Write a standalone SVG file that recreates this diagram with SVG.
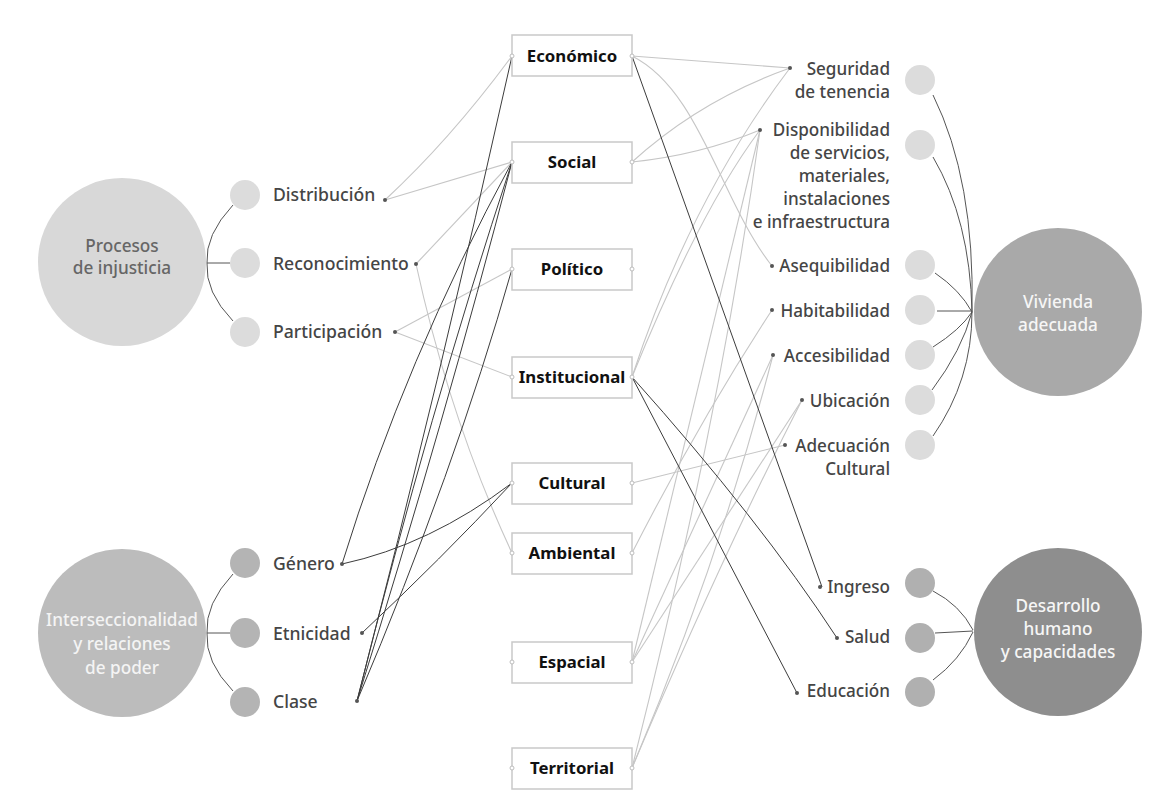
<svg xmlns="http://www.w3.org/2000/svg" width="1165" height="791" viewBox="0 0 1165 791">
<style>
.lbl{font-family:"Noto Sans","DejaVu Sans",sans-serif;font-size:17.6px;fill:#454545;font-weight:500}
.rl{font-size:17.1px;text-anchor:end}
.box{fill:#fff;stroke:#c9c9c9;stroke-width:1.5}
.bt{font-family:"Noto Sans","DejaVu Sans",sans-serif;font-size:16.8px;font-weight:700;fill:#111;text-anchor:middle}
.ct{font-family:"Noto Sans","DejaVu Sans",sans-serif;font-size:17.2px;text-anchor:middle;font-weight:500}
.lt{fill:none;stroke:#c6c6c6;stroke-width:1.1}
.dk{fill:none;stroke:#3c3c3c;stroke-width:1}
.br{fill:none;stroke:#555;stroke-width:1}
.dot{fill:#555}
.ep{fill:#fff;stroke:#bdbdbd;stroke-width:1}
</style>
<rect width="1165" height="791" fill="#fff"/>

<g id="connectors">
  <!-- left light -->
  <path class="lt" d="M385,200 Q450,140 512,56"/>
  <path class="lt" d="M385,200 L512,162"/>
  <path class="lt" d="M416,264 L512,162"/>
  <path class="lt" d="M416,264 Q450,420 512,553"/>
  <path class="lt" d="M395,332 L512,269"/>
  <path class="lt" d="M395,332 L512,377"/>
  <!-- left dark -->
  <path class="dk" d="M342,564 Q405,360 512,162"/>
  <path class="dk" d="M342,564 Q430,545 512,483"/>
  <path class="dk" d="M362,633 Q440,560 512,483"/>
  <path class="dk" d="M357,701 Q440,380 512,56"/>
  <path class="dk" d="M357,701 Q430,410 512,162"/>
  <path class="dk" d="M357,701 Q445,420 512,162"/>
  <path class="dk" d="M357,701 Q455,470 512,269"/>
  <!-- right light -->
  <path class="lt" d="M632,56 L790,68"/>
  <path class="lt" d="M632,56 C700,90 720,200 772,266"/>
  <path class="lt" d="M632,162 Q700,100 790,68"/>
  <path class="lt" d="M632,162 Q700,155 760,130"/>
  <path class="lt" d="M632,377 Q690,200 790,68"/>
  <path class="lt" d="M632,377 Q700,210 760,130"/>
  <path class="lt" d="M632,553 Q700,420 772,310"/>
  <path class="lt" d="M632,483 L785,445"/>
  <path class="lt" d="M632,662 Q700,380 760,130"/>
  <path class="lt" d="M632,662 L773,355"/>
  <path class="lt" d="M632,662 L802,400"/>
  <path class="lt" d="M632,768 Q720,420 760,130"/>
  <path class="lt" d="M632,768 Q720,560 773,355"/>
  <path class="lt" d="M632,768 Q720,560 802,400"/>
  <!-- right dark -->
  <path class="dk" d="M632,56 L822,587"/>
  <path class="dk" d="M632,377 Q760,520 837,638"/>
  <path class="dk" d="M632,377 L797,693"/>
</g>

<g id="brackets">
  <path class="br" d="M233,205 Q205,235 207,263 Q205,292 233,321"/>
  <path class="br" d="M207,263 L230,263"/>
  <path class="br" d="M233,574 Q205,604 207,633 Q205,662 233,691"/>
  <path class="br" d="M207,633 L230,633"/>
  <path class="br" d="M933,95 Q975,180 972,312"/>
  <path class="br" d="M933,157 Q970,220 972,312"/>
  <path class="br" d="M935,273 Q960,290 972,312"/>
  <path class="br" d="M937,311 L972,311"/>
  <path class="br" d="M933,347 Q960,330 972,312"/>
  <path class="br" d="M932,390 Q962,350 972,312"/>
  <path class="br" d="M933,436 Q972,380 972,312"/>
  <path class="br" d="M933,591 Q960,605 973,630"/>
  <path class="br" d="M935,633 L973,631"/>
  <path class="br" d="M933,680 Q960,660 973,632"/>
</g>

<g id="procesos">
  <circle cx="122" cy="262" r="84" fill="#d8d8d8"/>
  <text class="ct" x="122" y="252" fill="#666">Procesos</text>
  <text class="ct" x="122" y="274" fill="#666">de injusticia</text>
</g>
<g id="distribucion">
  <circle cx="245" cy="195" r="15" fill="#dcdcdc"/>
  <text class="lbl" x="273" y="201">Distribución</text>
  <circle class="dot" cx="385" cy="200" r="2"/>
</g>
<g id="reconocimiento">
  <circle cx="245" cy="263" r="15" fill="#dcdcdc"/>
  <text class="lbl" x="273" y="270">Reconocimiento</text>
  <circle class="dot" cx="416" cy="264" r="2"/>
</g>
<g id="participacion">
  <circle cx="245" cy="332" r="15" fill="#dcdcdc"/>
  <text class="lbl" x="273" y="338">Participación</text>
  <circle class="dot" cx="395" cy="332" r="2"/>
</g>

<g id="interseccionalidad">
  <circle cx="122" cy="633" r="84" fill="#bcbcbc"/>
  <text class="ct" x="122" y="626" fill="#f4f4f4">Interseccionalidad</text>
  <text class="ct" x="122" y="650" fill="#f4f4f4">y relaciones</text>
  <text class="ct" x="122" y="674" fill="#f4f4f4">de poder</text>
</g>
<g id="genero">
  <circle cx="245" cy="563" r="15" fill="#b4b4b4"/>
  <text class="lbl" x="273" y="570">Género</text>
  <circle class="dot" cx="342" cy="564" r="2"/>
</g>
<g id="etnicidad">
  <circle cx="245" cy="633" r="15" fill="#b4b4b4"/>
  <text class="lbl" x="273" y="640">Etnicidad</text>
  <circle class="dot" cx="362" cy="633" r="2"/>
</g>
<g id="clase">
  <circle cx="245" cy="702" r="15" fill="#b4b4b4"/>
  <text class="lbl" x="273" y="708">Clase</text>
  <circle class="dot" cx="357" cy="701" r="2"/>
</g>

<g id="economico"><rect class="box" x="512" y="35" width="120" height="41"/><text class="bt" x="572" y="62">Económico</text><circle class="ep" cx="512" cy="56" r="2"/><circle class="ep" cx="632" cy="56" r="2"/></g>
<g id="social"><rect class="box" x="512" y="142" width="120" height="41"/><text class="bt" x="572" y="168">Social</text><circle class="ep" cx="512" cy="162" r="2"/><circle class="ep" cx="632" cy="162" r="2"/></g>
<g id="politico"><rect class="box" x="512" y="249" width="120" height="41"/><text class="bt" x="572" y="275">Político</text><circle class="ep" cx="512" cy="269" r="2"/><circle class="ep" cx="632" cy="269" r="2"/></g>
<g id="institucional"><rect class="box" x="512" y="357" width="120" height="41"/><text class="bt" x="572" y="383">Institucional</text><circle class="ep" cx="512" cy="377" r="2"/><circle class="ep" cx="632" cy="377" r="2"/></g>
<g id="cultural"><rect class="box" x="512" y="463" width="120" height="41"/><text class="bt" x="572" y="489">Cultural</text><circle class="ep" cx="512" cy="483" r="2"/><circle class="ep" cx="632" cy="483" r="2"/></g>
<g id="ambiental"><rect class="box" x="512" y="533" width="120" height="41"/><text class="bt" x="572" y="559">Ambiental</text><circle class="ep" cx="512" cy="553" r="2"/><circle class="ep" cx="632" cy="553" r="2"/></g>
<g id="espacial"><rect class="box" x="512" y="642" width="120" height="41"/><text class="bt" x="572" y="668">Espacial</text><circle class="ep" cx="512" cy="662" r="2"/><circle class="ep" cx="632" cy="662" r="2"/></g>
<g id="territorial"><rect class="box" x="512" y="748" width="120" height="41"/><text class="bt" x="572" y="774">Territorial</text><circle class="ep" cx="512" cy="768" r="2"/><circle class="ep" cx="632" cy="768" r="2"/></g>

<g id="seguridad">
  <circle class="dot" cx="790" cy="68" r="2"/>
  <text class="lbl rl" x="890" y="75">Seguridad</text>
  <text class="lbl rl" x="890" y="98">de tenencia</text>
  <circle cx="920" cy="80" r="15" fill="#dcdcdc"/>
</g>
<g id="disponibilidad">
  <circle class="dot" cx="760" cy="130" r="2"/>
  <text class="lbl rl" x="890" y="136">Disponibilidad</text>
  <text class="lbl rl" x="890" y="159">de servicios,</text>
  <text class="lbl rl" x="890" y="182">materiales,</text>
  <text class="lbl rl" x="890" y="205">instalaciones</text>
  <text class="lbl rl" x="890" y="228">e infraestructura</text>
  <circle cx="920" cy="145" r="15" fill="#dcdcdc"/>
</g>
<g id="asequibilidad">
  <circle class="dot" cx="772" cy="266" r="2"/>
  <text class="lbl rl" x="890" y="272">Asequibilidad</text>
  <circle cx="920" cy="265" r="15" fill="#dcdcdc"/>
</g>
<g id="habitabilidad">
  <circle class="dot" cx="772" cy="310" r="2"/>
  <text class="lbl rl" x="890" y="317">Habitabilidad</text>
  <circle cx="920" cy="310" r="15" fill="#dcdcdc"/>
</g>
<g id="accesibilidad">
  <circle class="dot" cx="773" cy="355" r="2"/>
  <text class="lbl rl" x="890" y="362">Accesibilidad</text>
  <circle cx="920" cy="355" r="15" fill="#dcdcdc"/>
</g>
<g id="ubicacion">
  <circle class="dot" cx="802" cy="400" r="2"/>
  <text class="lbl rl" x="890" y="407">Ubicación</text>
  <circle cx="920" cy="400" r="15" fill="#dcdcdc"/>
</g>
<g id="adecuacion">
  <circle class="dot" cx="785" cy="445" r="2"/>
  <text class="lbl rl" x="890" y="452">Adecuación</text>
  <text class="lbl rl" x="890" y="475">Cultural</text>
  <circle cx="920" cy="445" r="15" fill="#dcdcdc"/>
</g>
<g id="vivienda">
  <circle cx="1058" cy="312" r="84" fill="#a9a9a9"/>
  <text class="ct" x="1058" y="308" fill="#f6f6f6">Vivienda</text>
  <text class="ct" x="1058" y="331" fill="#f6f6f6">adecuada</text>
</g>

<g id="ingreso">
  <circle class="dot" cx="820" cy="587" r="2"/>
  <text class="lbl rl" x="890" y="593">Ingreso</text>
  <circle cx="920" cy="583" r="15" fill="#b0b0b0"/>
</g>
<g id="salud">
  <circle class="dot" cx="837" cy="638" r="2"/>
  <text class="lbl rl" x="890" y="643">Salud</text>
  <circle cx="920" cy="638" r="15" fill="#b0b0b0"/>
</g>
<g id="educacion">
  <circle class="dot" cx="797" cy="693" r="2"/>
  <text class="lbl rl" x="890" y="697">Educación</text>
  <circle cx="920" cy="692" r="15" fill="#b0b0b0"/>
</g>
<g id="desarrollo">
  <circle cx="1058" cy="632" r="84" fill="#8e8e8e"/>
  <text class="ct" x="1058" y="612" fill="#f6f6f6">Desarrollo</text>
  <text class="ct" x="1058" y="635" fill="#f6f6f6">humano</text>
  <text class="ct" x="1058" y="658" fill="#f6f6f6">y capacidades</text>
</g>
</svg>
